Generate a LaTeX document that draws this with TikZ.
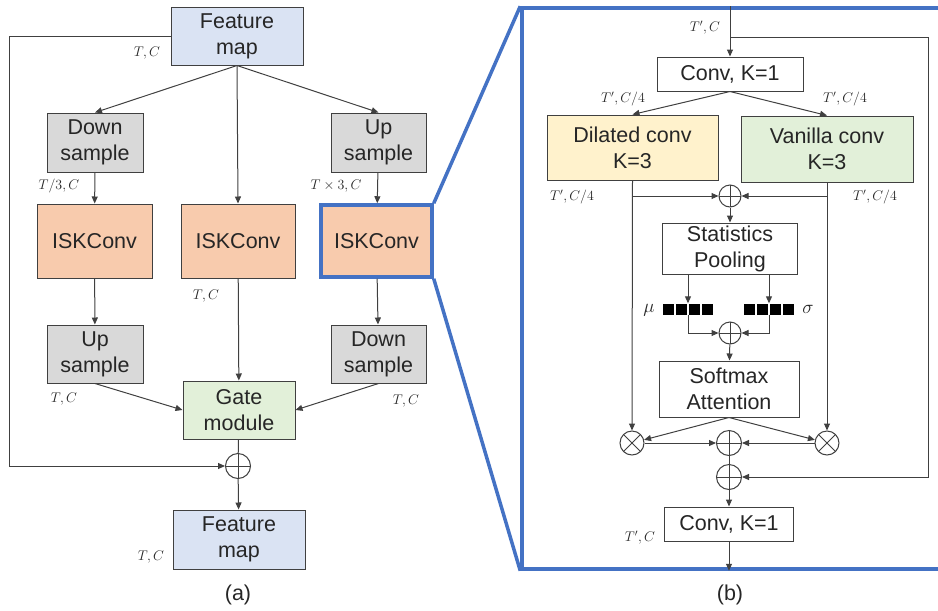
\RequirePackage{fix-cm}
\documentclass[tikz,border=0pt]{standalone}
\usepackage{fontspec}
\setmainfont{Liberation Sans}
\usetikzlibrary{positioning,arrows.meta}

\definecolor{mapblue}{HTML}{DAE3F3}
\definecolor{samplegray}{HTML}{D9D9D9}
\definecolor{convpeach}{HTML}{F8CBAD}
\definecolor{gategreen}{HTML}{E2F0D9}
\definecolor{dilyellow}{HTML}{FFF2CC}
\definecolor{zoomblue}{HTML}{4472C4}
\definecolor{edge}{HTML}{404040}
\definecolor{ink}{HTML}{262626}
\newcommand\blockfont{\fontsize{21.5}{26}\selectfont}

\begin{document}
\begin{tikzpicture}[x=1pt,y=-1pt,
  box/.style={draw=edge,line width=1pt,align=center,inner sep=0pt,font=\blockfont,text=ink,fill=#1},
  box/.default=white,
  dim/.style={font=\fontsize{14}{16}\selectfont,text=ink},
  plus/.style={circle,draw=edge,line width=1pt,minimum size=#1,inner sep=0pt,fill=white,
    path picture={\draw[edge,line width=1pt] (path picture bounding box.north) -- (path picture bounding box.south)
      (path picture bounding box.west) -- (path picture bounding box.east);}},
  plus/.default=24,
  times/.style={circle,draw=edge,line width=1pt,minimum size=24,inner sep=0pt,fill=white,
    path picture={\draw[edge,line width=1pt] (path picture bounding box.north west) -- (path picture bounding box.south east)
      (path picture bounding box.south west) -- (path picture bounding box.north east);}},
  link/.style={draw=edge,line width=1pt},
  zoomline/.style={draw=zoomblue,line width=3.5pt},
  >={Triangle[length=7pt,width=6pt]}]
\useasboundingbox (0,0) rectangle (938,611);

% (a) multi-resolution block
\node[box=mapblue,minimum width=132,minimum height=58] (fin) at (237,36) {Feature\\map};
\node[box=samplegray,minimum width=96,minimum height=59] (ds1) at (95,142.5) {Down\\sample};
\node[box=samplegray,minimum width=95,minimum height=59] (us1) at (378.5,142.5) {Up\\sample};
\node[box=convpeach,minimum width=115,minimum height=74] (isk1) at (94.5,241) {ISKConv};
\node[box=convpeach,minimum width=114,minimum height=74] (isk2) at (238,241) {ISKConv};
\node[box=convpeach,draw=zoomblue,line width=3.5pt,minimum width=111,minimum height=72] (isk3) at (376.5,241) {ISKConv};
\node[box=samplegray,minimum width=96,minimum height=58] (us2) at (95,354) {Up\\sample};
\node[box=samplegray,minimum width=95,minimum height=58] (ds2) at (378.5,354) {Down\\sample};
\node[box=gategreen,minimum width=112,minimum height=58] (gate) at (239,410) {Gate\\module};
\node[plus=25] (suma) at (238,466) {};
\node[box=mapblue,minimum width=132,minimum height=59] (fout) at (239,539.5) {Feature\\map};

\draw[link,->] (fin.south) -- (ds1.north);
\draw[link,->] (fin.south) -- (us1.north);
\draw[link,->] (fin.south) -- (isk2.north);
\draw[link,->] (ds1) -- (isk1);
\draw[link,->] (us1) -- (isk3);
\draw[link,->] (isk1) -- (us2);
\draw[link,->] (isk3) -- (ds2);
\draw[link,->] (isk2) -- (gate);
\draw[link,->] (us2.south) -- (gate.west);
\draw[link,->] (ds2.south) -- (gate.east);
\draw[link] (gate) -- (suma);
\draw[link,->] (suma) -- (fout);
\draw[link,->] (fin.west) -- ++(-161,0) |- (suma.west);

\node[dim] (tc0) at (147,53) {$T,C$};
\node[dim] (tc1) at (59,186) {$T/3,C$};
\node[dim] (tc2) at (336,186) {$T\times 3,C$};
\node[dim] (tc3) at (206,296) {$T,C$};
\node[dim] (tc4) at (64,399) {$T,C$};
\node[dim] (tc5) at (406,401) {$T,C$};
\node[dim] (tc6) at (151,557) {$T,C$};
\node[font=\blockfont,text=ink] (capa) at (238,595) {(a)};

% (b) ISKConv in detail
\node[draw=zoomblue,line width=3.5pt,minimum width=418,minimum height=561,inner sep=0pt] (zoom) at (731,288.5) {};
\draw[zoomline] (isk3.north east) -- (zoom.north west);
\draw[zoomline] (isk3.south east) -- (zoom.south west);

\node[box,minimum width=146,minimum height=34] (conv1) at (730,74) {Conv, K=1};
\node[box=dilyellow,minimum width=171,minimum height=65] (dil) at (632.5,147.5) {Dilated conv\\K=3};
\node[box=gategreen,minimum width=172,minimum height=66] (van) at (827,149) {Vanilla conv\\K=3};
\node[plus=22] (sum1) at (730,196) {};
\node[box,minimum width=135,minimum height=51] (pool) at (730,248.5) {Statistics\\Pooling};
\node[inner sep=0pt,minimum width=52,minimum height=11] (mu) at (688,309) {};
\node[inner sep=0pt,minimum width=52,minimum height=11] (sg) at (769,309) {};
\foreach \cx in {688,769}
  \foreach \i in {0,...,3}
    \fill[black] (\cx-26+\i*13+0.7,303.5) rectangle ++(11.6,11);
\node[plus=22] (sum2) at (730,333) {};
\node[box,minimum width=140,minimum height=56] (att) at (729,389) {Softmax\\Attention};
\node[times] (mull) at (632,443) {};
\node[times] (mulr) at (827,443) {};
\node[plus=25] (sum3) at (729,443) {};
\node[plus=25] (sum4) at (729,477) {};
\node[box,minimum width=129,minimum height=34] (conv2) at (729,524) {Conv, K=1};

\coordinate (split) at (730,37);
\draw[link,->] (conv1.north |- zoom.north) -- (conv1.north);
\draw[link,->] (split) -- ++(198,0) |- (sum4.east);
\draw[link,->] (conv1.south) -- (dil.north);
\draw[link,->] (conv1.south) -- (van.north);
\draw[link,->] (dil.south) -- (mull.north);
\draw[link,->] (van.south) -- (mulr.north);
\draw[link,->] (dil.south |- sum1) -- (sum1.west);
\draw[link,->] (van.south |- sum1) -- (sum1.east);
\draw[link,->] (sum1) -- (pool);
\draw[link,->] (pool.south -| mu) -- (mu.north);
\draw[link,->] (pool.south -| sg) -- (sg.north);
\draw[link,->] (mu.south) |- (sum2.west);
\draw[link,->] (sg.south) |- (sum2.east);
\draw[link,->] (sum2) -- (att);
\draw[link,->] (att.south) -- (mull);
\draw[link,->] (att.south) -- (mulr);
\draw[link,->] (mull) -- (sum3);
\draw[link,->] (mulr) -- (sum3);
\draw[link] (sum3) -- (sum4);
\draw[link,->] (sum4) -- (conv2);
\draw[link,->] (conv2.south) -- (conv2.south |- zoom.south);

\node[dim] (tp0) at (705,28) {$T',C$};
\node[dim] (tp1) at (623,99) {$T',C/4$};
\node[dim] (tp2) at (845,99) {$T',C/4$};
\node[dim] (tp3) at (572,197) {$T',C/4$};
\node[dim] (tp4) at (875,197) {$T',C/4$};
\node[dim] (tp5) at (640,538) {$T',C$};
\node[font=\fontsize{19}{21}\selectfont,text=ink] (mulab) at (649,310) {$\mu$};
\node[font=\fontsize{19}{21}\selectfont,text=ink] (sglab) at (808,309) {$\sigma$};
\node[font=\blockfont,text=ink] (capb) at (730,595) {(b)};
\end{tikzpicture}
\end{document}
